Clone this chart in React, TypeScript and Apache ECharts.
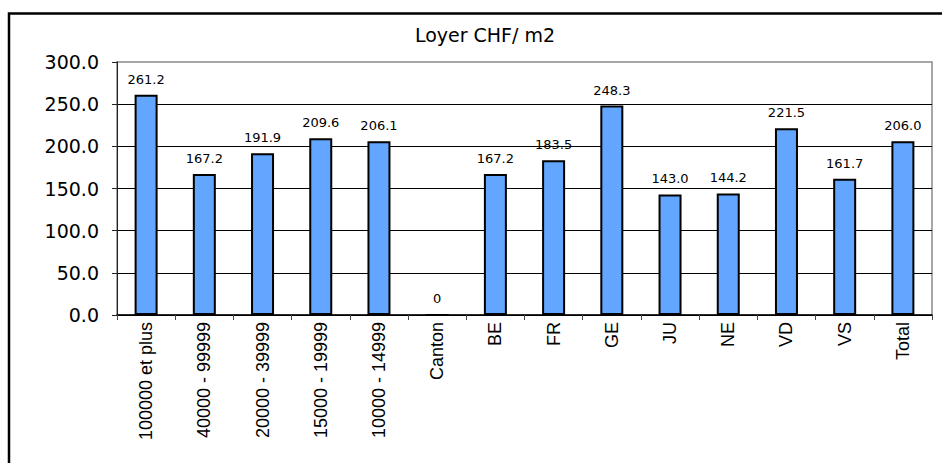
import React, { useEffect, useRef } from "react";
import * as echarts from "echarts";

const titleText = "Loyer CHF/ m2";
const categories = [
  "100000 et plus",
  "40000 - 99999",
  "20000 - 39999",
  "15000 - 19999",
  "10000 - 14999",
  "Canton",
  "BE",
  "FR",
  "GE",
  "JU",
  "NE",
  "VD",
  "VS",
  "Total",
];
const values = [261.2, 167.2, 191.9, 209.6, 206.1, 0, 167.2, 183.5, 248.3, 143.0, 144.2, 221.5, 161.7, 206.0];
const yMin = 0;
const yMax = 300;
const yInterval = 50;

export default function App() {
  const ref = useRef<HTMLDivElement>(null);
  useEffect(() => {
    document.body.style.margin = "0";
    const chart = echarts.init(ref.current!, null, { renderer: "svg" });
    chart.setOption({
      animation: false,
      backgroundColor: "#fff",
      title: {
        text: titleText,
        left: 485,
        top: 25,
        textAlign: "center",
        padding: 0,
        textStyle: {
          fontFamily: "'DejaVu Sans'",
          fontSize: 19,
          fontWeight: "normal",
          color: "#000",
        },
      },
      graphic: [
        {
          type: "rect",
          shape: { x: 9, y: 13.5, width: 1100, height: 600 },
          style: { fill: "none", stroke: "#000", lineWidth: 2.5 },
          silent: true,
        },
      ],
      grid: {
        left: 117,
        right: 10,
        top: 62,
        bottom: 148,
        show: true,
        borderColor: "#8a8a8a",
        borderWidth: 1.5,
        backgroundColor: "transparent",
      },
      xAxis: {
        type: "category",
        data: categories,
        boundaryGap: true,
        axisLine: { show: true, lineStyle: { color: "#000", width: 1.5 } },
        axisTick: { show: true, length: 5, lineStyle: { color: "#444" } },
        axisLabel: {
          rotate: 90,
          interval: 0,
          margin: 7,
          color: "#000",
          fontFamily: "'Liberation Sans', Arial, sans-serif",
          fontSize: 18,
        },
      },
      yAxis: {
        type: "value",
        min: yMin,
        max: yMax,
        interval: yInterval,
        axisLine: { show: true, lineStyle: { color: "#222", width: 1 } },
        axisTick: { show: true, length: 5, lineStyle: { color: "#222" } },
        axisLabel: {
          margin: 18,
          color: "#000",
          fontFamily: "'DejaVu Sans'",
          fontSize: 19,
          formatter: (v: number) => v.toFixed(1),
        },
        splitLine: {
          show: true,
          showMaxLine: false,
          lineStyle: { color: "#000", width: 1 },
        },
      },
      series: [
        {
          type: "bar",
          data: values,
          barWidth: 23,
          itemStyle: { color: "#62A6FF", borderColor: "#000", borderWidth: 2 },
          label: {
            show: true,
            position: "top",
            distance: 9,
            color: "#000",
            fontFamily: "'DejaVu Sans'",
            fontSize: 13,
            formatter: (p: any) => (p.value === 0 ? "0" : Number(p.value).toFixed(1)),
          },
        },
      ],
    });
    return () => chart.dispose();
  }, []);
  return (
    <div
      ref={ref}
      style={{ position: "fixed", left: 0, top: 0, width: 942, height: 463 }}
    />
  );
}
